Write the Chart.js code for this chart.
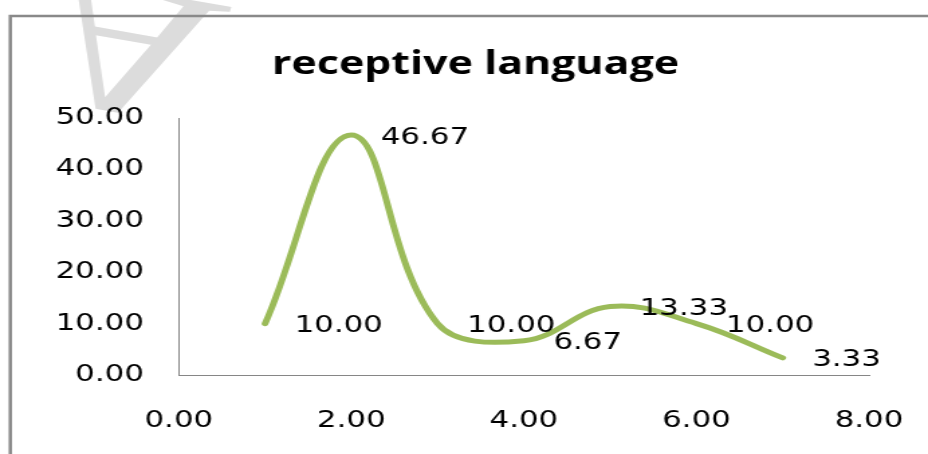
<!DOCTYPE html>
<html>
<head>
<meta charset="utf-8">
<title>receptive language</title>
<script src="https://cdn.jsdelivr.net/npm/chart.js@4.4.1/dist/chart.umd.min.js"></script>
<style>
  html, body { margin: 0; padding: 0; background: #ffffff; overflow: hidden; }
  /* the source picture is stretched sideways, so the canvas is too */
  #chart { display: block; width: 928px; height: 454px; }
</style>
</head>
<body>
<canvas id="chart" width="692" height="454" style="width:928px;height:454px"></canvas>
<script>
// -----------------------------
// Data
// -----------------------------
const chartTitle = "receptive language";
const xValues = [1, 2, 3, 4, 5, 6, 7];
const yValues = [10, 46.67, 10, 6.67, 13.33, 10, 3.33];
const pointLabels = ["10.00", "46.67", "10.00", "6.67", "13.33", "10.00", "3.33"];
const xTickRange = [0, 8, 2];   // min, max, step
const yTickRange = [0, 50, 10];

const tickFont = { family: "'DejaVu Sans', Verdana, sans-serif", size: 23 };

// -----------------------------
// Small helper plugins
// -----------------------------
const backdrop = {
  id: "backdrop",
  beforeDraw(chart) {
    const ctx = chart.ctx;
    ctx.save();
    // faint watermark letter behind the chart
    ctx.translate(81, 111);
    ctx.rotate(0.23);
    ctx.scale(1, -1);
    ctx.fillStyle = "#dcdcdc";
    ctx.font = "185px 'Liberation Serif', serif";
    ctx.textAlign = "center";
    ctx.textBaseline = "alphabetic";
    ctx.fillText("A", 0, 122);
    ctx.restore();

    // outer frame (left and top edges are the only ones in view)
    ctx.save();
    ctx.strokeStyle = "#898989";
    ctx.lineWidth = 2.5;
    ctx.beginPath();
    ctx.moveTo(7.7, chart.height + 2);
    ctx.lineTo(7.7, 16);
    ctx.lineTo(chart.width + 2, 16);
    ctx.stroke();
    ctx.restore();
  }
};

const titleText = {
  id: "titleText",
  afterDraw(chart) {
    const ctx = chart.ctx;
    ctx.save();
    ctx.fillStyle = "#000000";
    ctx.font = "bold 32px 'Open Sans', Lato, sans-serif";
    ctx.textAlign = "center";
    ctx.textBaseline = "alphabetic";
    ctx.fillText(chartTitle, 354.6, 73.5);
    ctx.restore();
  }
};

const valueLabels = {
  id: "valueLabels",
  afterDatasetsDraw(chart) {
    const ctx = chart.ctx;
    const meta = chart.getDatasetMeta(0);
    ctx.save();
    ctx.fillStyle = "#000000";
    ctx.font = `${tickFont.size}px ${tickFont.family}`;
    ctx.textAlign = "left";
    ctx.textBaseline = "alphabetic";
    meta.data.forEach((pt, i) => {
      ctx.fillText(pointLabels[i], pt.x + 22, pt.y + 8.5);
    });
    ctx.restore();
  }
};

// -----------------------------
// Chart
// -----------------------------
const ctx = document.getElementById("chart").getContext("2d");

new Chart(ctx, {
  type: "line",
  data: {
    datasets: [{
      label: chartTitle,
      data: xValues.map((x, i) => ({ x: x, y: yValues[i] })),
      borderColor: "#9bbb59",
      borderWidth: 5,
      borderCapStyle: "round",
      borderJoinStyle: "round",
      tension: 0.4,
      pointRadius: 0,
      pointHoverRadius: 0,
      fill: false
    }]
  },
  options: {
    responsive: false,
    devicePixelRatio: 1,
    animation: false,
    events: [],
    layout: { padding: { left: 0, right: 44, top: 118, bottom: 0 } },
    plugins: {
      legend: { display: false },
      title: { display: false },
      tooltip: { enabled: false }
    },
    scales: {
      x: {
        type: "linear",
        min: xTickRange[0],
        max: xTickRange[1],
        grid: { display: false, drawTicks: false },
        border: { display: true, color: "#868686", width: 1 },
        ticks: {
          stepSize: xTickRange[2],
          color: "#000000",
          font: tickFont,
          padding: 32,
          maxRotation: 0,
          callback: (v) => Number(v).toFixed(2)
        },
        afterFit(scale) {
          scale.height = 79;
          // keep the end labels from shrinking the plot area
          scale.paddingLeft = 0;
          scale.paddingRight = 0;
        }
      },
      y: {
        min: yTickRange[0],
        max: yTickRange[1],
        grid: { display: false, drawTicks: false },
        border: { display: true, color: "#868686", width: 1 },
        ticks: {
          stepSize: yTickRange[2],
          color: "#000000",
          font: tickFont,
          padding: 26,
          callback: (v) => Number(v).toFixed(2)
        },
        afterFit(scale) { scale.width = 133.3; }
      }
    }
  },
  plugins: [backdrop, titleText, valueLabels]
});
</script>
</body>
</html>
